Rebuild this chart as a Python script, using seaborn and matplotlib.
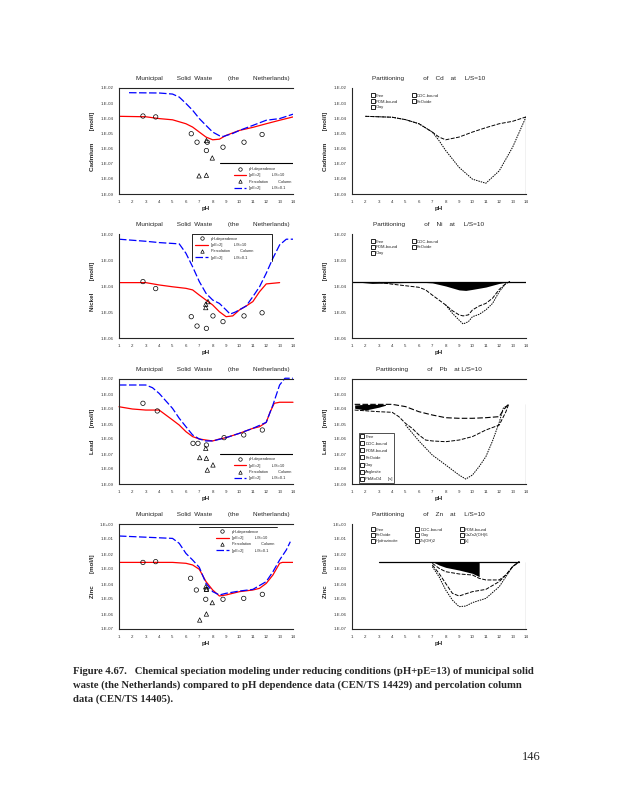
"""Chemical speciation modelling of MSW (the Netherlands): Cd, Ni, Pb, Zn panels."""

import numpy as np
import seaborn as sns
import matplotlib.pyplot as plt
from matplotlib import ticker
from matplotlib.lines import Line2D

OUT_PATH = 'out.png'

# ---- Cd, left panel (log10 mol/l) ----
CD_RED_PH = [1, 3, 4, 5, 6, 6.5, 7, 7.5, 8, 8.5, 9, 10, 11, 12, 13, 14]
CD_RED = [-3.87, -3.9, -4.02, -4.1, -4.36, -4.58, -4.91, -5.24, -5.42, -5.38, -5.13, -4.8, -4.6, -4.36, -4.13, -3.91]
CD_BLUE_PH = [1.75, 4, 5, 5.5, 6, 6.5, 7, 7.5, 8, 8.5, 8.8, 9.5, 10, 11, 12, 13, 14]
CD_BLUE = [-2.31, -2.33, -2.4, -2.6, -3.02, -3.47, -4.02, -4.47, -4.91, -5.15, -5.2, -5.0, -4.8, -4.47, -4.13, -4.02, -3.73]
CD_PHDEP_PH = [2.79, 3.74, 6.4, 6.83, 7.6, 7.53, 8.77, 10.34, 11.69]
CD_PHDEP = [-3.85, -3.91, -5.02, -5.58, -5.58, -6.13, -5.91, -5.58, -5.07]
CD_PERC_PH = [7.53, 7.97, 6.98, 7.53]
CD_PERC = [-5.47, -6.62, -7.8, -7.76]

# ---- Cd, partitioning ----
CD_P_UP_PH = [2, 3, 4, 5, 6, 7, 7.5, 8, 9, 10, 11, 12, 13, 14]
CD_P_UP = [-3.87, -3.9, -3.93, -4.09, -4.36, -4.91, -5.24, -5.42, -5.24, -4.91, -4.62, -4.36, -4.2, -3.91]
CD_P_LOW_PH = [2, 3, 4, 5, 6, 7, 7.5, 8, 9, 10, 11, 12, 13, 14]
CD_P_LOW = [-3.87, -3.9, -3.93, -4.09, -4.36, -4.91, -5.47, -6.13, -7.24, -8.02, -8.29, -7.47, -5.91, -3.91]

# ---- Ni, left panel ----
NI_RED_PH = [1, 3, 4, 5, 6, 6.5, 7, 7.5, 8, 8.5, 9, 9.5, 10, 10.5, 11, 11.5, 12, 13]
NI_RED = [-3.87, -3.87, -3.96, -4.03, -4.09, -4.15, -4.35, -4.54, -4.73, -4.99, -5.18, -5.15, -4.92, -4.77, -4.6, -4.22, -3.92, -3.87]
NI_BLUE_PH = [1, 3, 4, 5.5, 6, 6.5, 7, 7.5, 8, 8.5, 9, 9.3, 9.7, 10.5, 11, 11.5, 12, 12.5, 13, 13.5, 14]
NI_BLUE = [-2.2, -2.28, -2.33, -2.38, -2.74, -3.26, -3.83, -4.28, -4.54, -4.67, -4.92, -5.08, -5.0, -4.77, -4.41, -4.03, -3.51, -2.93, -2.42, -2.2, -2.2]
NI_PHDEP_PH = [2.79, 3.74, 6.4, 6.83, 7.53, 8.77, 10.34, 11.69, 8.02]
NI_PHDEP = [-3.83, -4.1, -5.18, -5.54, -5.63, -5.37, -5.15, -5.03, -5.15]
NI_PERC_PH = [7.48, 7.48, 7.65]
NI_PERC = [-4.7, -4.83, -4.6]

# ---- Ni, partitioning ----
NI_P_TOP_PH = [1, 14]
NI_P_TOP = [-3.83, -3.83]
NI_P_FILL_PH = [1, 2.5, 6, 7, 8, 9, 9.5, 10, 11, 12, 12.8]
NI_P_FILL = [-3.83, -3.9, -3.85, -3.88, -4.0, -4.15, -4.17, -4.13, -4.04, -3.9, -3.83]
NI_P_UP_PH = [3, 4, 5, 6, 6.5, 7, 7.5, 8, 8.5, 9, 9.3, 9.7, 10, 10.5, 11, 11.5, 12, 12.5, 12.8]
NI_P_UP = [-3.86, -3.93, -3.99, -4.05, -4.15, -4.35, -4.54, -4.73, -4.95, -5.11, -5.15, -5.11, -4.92, -4.77, -4.67, -4.47, -4.13, -3.9, -3.83]
NI_P_LOW_PH = [8, 8.5, 9, 9.3, 9.7, 10, 10.5, 11, 11.5, 12, 12.5, 12.8]
NI_P_LOW = [-4.73, -5.05, -5.31, -5.46, -5.37, -5.18, -5.09, -4.92, -4.67, -4.22, -3.9, -3.83]

# ---- Pb, left panel ----
PB_RED_PH = [1, 2, 3, 4, 4.5, 5, 5.5, 6, 6.5, 7, 7.5, 8, 8.5, 9, 10, 11, 11.5, 12, 12.3, 12.6, 13, 14]
PB_RED = [-3.85, -4.0, -4.07, -4.07, -4.4, -4.73, -5.07, -5.51, -5.84, -6.0, -6.07, -6.13, -6.0, -5.91, -5.62, -5.29, -5.18, -4.89, -4.18, -3.62, -3.55, -3.55]
PB_BLUE_PH = [1, 3, 3.5, 4, 5, 5.5, 6, 6.5, 7, 7.5, 8, 9, 10, 11, 12, 12.5, 13, 13.4, 14]
PB_BLUE = [-2.4, -2.4, -2.58, -2.96, -3.96, -4.62, -5.18, -5.73, -6.0, -6.13, -6.13, -5.91, -5.62, -5.29, -4.89, -3.73, -2.4, -1.95, -1.95]
PB_PHDEP_PH = [2.79, 3.86, 6.53, 6.9, 7.53, 8.85, 10.32, 11.71]
PB_PHDEP = [-3.62, -4.13, -6.29, -6.29, -6.4, -5.91, -5.73, -5.4]
PB_PERC_PH = [7.48, 7.03, 7.53, 7.6, 8.02]
PB_PERC = [-6.62, -7.24, -7.29, -8.07, -7.73]

# ---- Pb, partitioning ----
PB_P_FILL_PH = [1.2, 2, 3, 3.5]
PB_P_FILL_HI = [-3.73, -3.69, -3.69, -3.69]
PB_P_FILL_LO = [-3.95, -4.07, -3.88, -3.75]
PB_P_UP_PH = [1.2, 4, 5, 6, 7, 8, 9, 10, 11, 12, 12.3, 12.7]
PB_P_UP = [-3.69, -3.69, -3.84, -4.18, -4.4, -4.58, -4.62, -4.62, -4.58, -4.51, -4.07, -3.69]
PB_P_MID_PH = [1.2, 3, 4, 4.5, 5, 5.5, 6, 6.5, 7, 8, 9, 10, 11, 12, 12.5, 12.7]
PB_P_MID = [-4.07, -4.18, -4.22, -4.51, -4.96, -5.29, -5.73, -6.07, -6.13, -6.18, -6.07, -5.84, -5.4, -5.07, -4.18, -3.69]
PB_P_LOW_PH = [5, 6, 7, 8, 9, 9.5, 10, 10.5, 11, 11.5, 12, 12.3, 12.7]
PB_P_LOW = [-5.07, -6.13, -7.07, -7.73, -8.4, -8.67, -8.4, -7.84, -7.18, -6.13, -4.89, -3.95, -3.69]

# ---- Zn, left panel ----
ZN_RED_PH = [1, 5, 6, 6.5, 7, 7.5, 8, 8.5, 9, 10, 11, 11.5, 12, 12.5, 13, 13.2, 14]
ZN_RED = [-2.56, -2.56, -2.62, -2.73, -3.02, -3.84, -4.4, -4.8, -4.73, -4.51, -4.4, -4.29, -3.96, -3.4, -2.62, -2.56, -2.56]
ZN_BLUE_PH = [1, 5, 5.5, 6, 6.5, 7, 7.5, 8, 8.5, 9, 10, 11, 12, 12.5, 13, 13.5, 13.8]
ZN_BLUE = [-0.8, -0.96, -1.29, -1.96, -2.4, -2.89, -3.96, -4.51, -4.73, -4.62, -4.47, -4.36, -3.84, -3.18, -2.4, -1.73, -1.18]
ZN_PHDEP_PH = [2.79, 3.74, 6.35, 6.78, 7.53, 7.48, 8.77, 10.32, 11.71]
ZN_PHDEP = [-2.56, -2.51, -3.62, -4.4, -4.36, -5.02, -5.02, -4.96, -4.69]
ZN_PERC_PH = [7.48, 7.53, 7.97, 7.53, 7.03]
ZN_PERC = [-4.18, -4.36, -5.24, -6.0, -6.4]

# ---- Zn, partitioning ----
ZN_P_TOP_PH = [3, 13.5]
ZN_P_TOP = [-2.51, -2.51]
ZN_P_FILL_PH = [7, 7.5, 8, 9, 10, 10.5]
ZN_P_FILL = [-2.51, -2.73, -2.89, -3.07, -3.29, -3.51]
ZN_P_A_PH = [7, 7.5, 8, 9, 10, 10.5, 11, 12, 12.5, 13, 13.5]
ZN_P_A = [-2.62, -2.95, -3.18, -3.33, -3.4, -3.62, -3.73, -3.73, -3.4, -2.84, -2.51]
ZN_P_B_PH = [7, 7.5, 8, 8.5, 9, 10, 11, 12, 12.5, 13, 13.5]
ZN_P_B = [-2.73, -3.29, -3.96, -4.62, -4.8, -4.51, -4.36, -3.84, -3.4, -2.84, -2.51]
ZN_P_C_PH = [7, 7.5, 8, 8.5, 9, 9.5, 10, 11, 12, 12.5, 13, 13.5]
ZN_P_C = [-2.84, -3.51, -4.4, -5.07, -5.51, -5.47, -5.24, -4.96, -4.18, -3.51, -2.84, -2.51]

PH_TICKS = list(range(1, 15))

TITLE_LEFT = 'Municipal        Solid  Waste         (the        Netherlands)'
LEGEND_LEFT = ['pH-dependence', '[pE=2]          L/S=10', 'Percolation         Column', '[pE=2]          L/S=0.1']
# column-major order so the legends read row by row like the original
LEGEND_RIGHT = ['Free', 'POM-bound', 'Clay', 'DOC-bound', 'FeOxide']
LEGEND_PB = ['Free', 'DOC-bound', 'POM-bound', 'FeOxide', 'Clay', 'Anglesite', 'PbMoO4      [s]']
LEGEND_ZN = ['Free', 'FeOxide', 'Hydrozincite', 'DOC-bound', 'Clay', 'Zn(OH)2',
             'POM-bound', 'CaZn2(OH)6', '[s]']

# axes boxes in pixels (left, top, right, bottom) on a 618 x 800 page
W, H = 618, 800
LEFT_X = (119, 293)
RIGHT_X = (352, 526)
ROWS_Y = [(88, 194), (234, 338), (379, 484), (524, 629)]

RED = '#ff0000'
BLUE = '#0000ff'


def make_axes(fig, xs, ys):
    return fig.add_axes([xs[0] / W, 1 - ys[1] / H, (xs[1] - xs[0]) / W, (ys[1] - ys[0]) / H])


def style_axis(ax, ymin, ymax, ylabel, top=False):
    ax.set_yscale('log')
    ax.set_ylim(10.0 ** ymin, 10.0 ** ymax)
    ax.set_xlim(1, 14)
    ax.set_xticks(PH_TICKS)
    ax.set_yticks([10.0 ** e for e in range(ymin, ymax + 1)])
    ax.yaxis.set_major_formatter(ticker.FuncFormatter(
        lambda v, _: f"1.E{int(round(np.log10(v))):+03d}"))
    ax.yaxis.set_minor_locator(ticker.LogLocator(base = 10, subs = np.arange(2, 10)))
    ax.yaxis.set_minor_formatter(ticker.NullFormatter())
    ax.tick_params(axis = 'both', which = 'major', labelsize = 3.2, length = 2,
                   width = 0.5, direction = 'in', pad = 4, colors = '#333333')
    ax.tick_params(axis = 'y', which = 'minor', length = 1.5, width = 0.5, direction = 'in')
    for sp in ax.spines.values():
        sp.set_linewidth(0.8)
    ax.spines['right'].set_visible(False)
    ax.spines['top'].set_visible(top)
    ax.set_xlabel('pH', fontsize = 4.5, labelpad = 2, fontweight = 'bold')
    ax.set_ylabel(ylabel, fontsize = 4.5, fontweight = 'bold', labelpad = 2)
    ax.yaxis.set_label_coords(-0.14, 0.5)
    ax.patch.set_alpha(0)


def exp10(vals):
    return [10.0 ** v for v in vals]


def draw_left(ax, red_ph, red, blue_ph, blue, phd_ph, phd, perc_ph, perc):
    sns.lineplot(x = red_ph, y = exp10(red), ax = ax, color = RED, lw = 0.9)
    sns.lineplot(x = blue_ph, y = exp10(blue), ax = ax, color = BLUE, lw = 0.9,
                 linestyle = (0, (6, 2)))
    sns.scatterplot(x = phd_ph, y = exp10(phd), ax = ax, marker = 'o', s = 10,
                    facecolor = 'none', edgecolor = 'black', linewidth = 0.5, zorder = 4)
    sns.scatterplot(x = perc_ph, y = exp10(perc), ax = ax, marker = '^', s = 10,
                    facecolor = 'none', edgecolor = 'black', linewidth = 0.5, zorder = 4)
    ax.text(0.1, 1.07, TITLE_LEFT, transform = ax.transAxes, fontsize = 4.6, va = 'bottom')


def left_legend(ax, loc, anchor):
    handles = [
        Line2D([], [], ls = 'none', marker = 'o', mfc = 'none', mec = 'black', ms = 2.5, mew = 0.5),
        Line2D([], [], color = RED, lw = 0.9),
        Line2D([], [], ls = 'none', marker = '^', mfc = 'none', mec = 'black', ms = 2.5, mew = 0.5),
        Line2D([], [], color = BLUE, lw = 0.9, ls = (0, (6, 2))),
    ]
    return ax.legend(handles, LEGEND_LEFT, loc = loc, bbox_to_anchor = anchor, fontsize = 2.8,
                     frameon = False, handlelength = 3.2, labelspacing = 0.6, borderaxespad = 0)


def right_legend(ax, labels, ncol, loc, anchor, frame = False, spacing = 0.4, colsp = 3.5):
    handles = [Line2D([], [], ls = 'none', marker = 's', mfc = 'white', mec = 'black',
                      ms = 2.2, mew = 0.6) for _ in labels]
    leg = ax.legend(handles, labels, ncol = ncol, loc = loc, bbox_to_anchor = anchor,
                    fontsize = 3.0, frameon = frame, handlelength = 0.8, handletextpad = 0.3,
                    labelspacing = spacing, columnspacing = colsp, borderaxespad = 0, fancybox = False)
    if frame:
        leg.get_frame().set_edgecolor('black')
        leg.get_frame().set_linewidth(0.6)
    return leg


def right_title(ax, text):
    ax.text(0.44, 1.07, text, transform = ax.transAxes, fontsize = 4.6, va = 'bottom', ha = 'center')


def main():
    sns.set_style('white')
    plt.rcParams['font.family'] = ['Liberation Sans', 'DejaVu Sans']
    fig = plt.figure(figsize = (W / 100, H / 100), dpi = 100)

    dash = (0, (4, 1.5))
    dot = (0, (1.5, 1))

    # ---------- row 1: Cd ----------
    ax = make_axes(fig, LEFT_X, ROWS_Y[0])
    draw_left(ax, CD_RED_PH, CD_RED, CD_BLUE_PH, CD_BLUE, CD_PHDEP_PH, CD_PHDEP, CD_PERC_PH, CD_PERC)
    style_axis(ax, -9, -2, 'Cadmium       [mol/l]', top = True)
    left_legend(ax, 'upper right', (1.0, 0.27))
    ax.plot([0.58, 1.0], [0.29, 0.29], transform = ax.transAxes, color = 'black', lw = 0.8)

    ax = make_axes(fig, RIGHT_X, ROWS_Y[0])
    sns.lineplot(x = CD_P_UP_PH, y = exp10(CD_P_UP), ax = ax, color = 'black', lw = 0.7, linestyle = dash)
    sns.lineplot(x = CD_P_LOW_PH, y = exp10(CD_P_LOW), ax = ax, color = 'black', lw = 0.7, linestyle = dot)
    ax.plot([14, 14], [10.0 ** CD_P_UP[-1], 1e-9], color = 'black', lw = 0.8)
    style_axis(ax, -9, -2, 'Cadmium       [mol/l]')
    right_title(ax, 'Partitioning           of    Cd    at     L/S=10')
    right_legend(ax, LEGEND_RIGHT, 2, 'upper left', (0.1, 0.96))

    # ---------- row 2: Ni ----------
    ax = make_axes(fig, LEFT_X, ROWS_Y[1])
    draw_left(ax, NI_RED_PH, NI_RED, NI_BLUE_PH, NI_BLUE, NI_PHDEP_PH, NI_PHDEP, NI_PERC_PH, NI_PERC)
    style_axis(ax, -6, -2, 'Nickel       [mol/l]')
    left_legend(ax, 'upper left', (0.43, 0.99))
    ax.plot([0.42, 0.42, 0.88, 0.88], [0.74, 1.0, 1.0, 0.74], transform = ax.transAxes,
            color = 'black', lw = 0.6)

    ax = make_axes(fig, RIGHT_X, ROWS_Y[1])
    ax.fill_between(NI_P_FILL_PH, exp10(NI_P_FILL), 10.0 ** NI_P_TOP[0], color = 'black', lw = 0)
    sns.lineplot(x = NI_P_TOP_PH, y = exp10(NI_P_TOP), ax = ax, color = 'black', lw = 0.9)
    sns.lineplot(x = NI_P_UP_PH, y = exp10(NI_P_UP), ax = ax, color = 'black', lw = 0.7, linestyle = dash)
    sns.lineplot(x = NI_P_LOW_PH, y = exp10(NI_P_LOW), ax = ax, color = 'black', lw = 0.7, linestyle = dot)
    style_axis(ax, -6, -2, 'Nickel       [mol/l]')
    right_title(ax, 'Partitioning           of    Ni    at     L/S=10')
    right_legend(ax, LEGEND_RIGHT, 2, 'upper left', (0.1, 0.96))

    # ---------- row 3: Pb ----------
    ax = make_axes(fig, LEFT_X, ROWS_Y[2])
    draw_left(ax, PB_RED_PH, PB_RED, PB_BLUE_PH, PB_BLUE, PB_PHDEP_PH, PB_PHDEP, PB_PERC_PH, PB_PERC)
    for ln in ax.get_lines():
        ln.set_clip_on(False)
    style_axis(ax, -9, -2, 'Lead       [mol/l]', top = True)
    left_legend(ax, 'upper right', (1.0, 0.27))
    ax.plot([0.58, 1.0], [0.29, 0.29], transform = ax.transAxes, color = 'black', lw = 0.8)

    ax = make_axes(fig, RIGHT_X, ROWS_Y[2])
    ax.fill_between(PB_P_FILL_PH, exp10(PB_P_FILL_LO), exp10(PB_P_FILL_HI), color = 'black', lw = 0)
    sns.lineplot(x = PB_P_UP_PH, y = exp10(PB_P_UP), ax = ax, color = 'black', lw = 0.8, linestyle = (0, (5, 2)))
    sns.lineplot(x = PB_P_MID_PH, y = exp10(PB_P_MID), ax = ax, color = 'black', lw = 0.7, linestyle = dash)
    sns.lineplot(x = PB_P_LOW_PH, y = exp10(PB_P_LOW), ax = ax, color = 'black', lw = 0.7, linestyle = dot)
    ax.plot([14, 14], [10.0 ** PB_P_UP[-1], 1e-9], color = 'black', lw = 0.8)
    style_axis(ax, -9, -2, 'Lead       [mol/l]', top = True)
    right_title(ax, 'Partitioning           of    Pb    at L/S=10')
    right_legend(ax, LEGEND_PB, 1, 'lower left', (0.04, 0.01), frame = True, spacing = 0.75)

    # ---------- row 4: Zn ----------
    ax = make_axes(fig, LEFT_X, ROWS_Y[3])
    draw_left(ax, ZN_RED_PH, ZN_RED, ZN_BLUE_PH, ZN_BLUE, ZN_PHDEP_PH, ZN_PHDEP, ZN_PERC_PH, ZN_PERC)
    style_axis(ax, -7, 0, 'Zinc       [mol/l]', top = True)
    left_legend(ax, 'upper left', (0.55, 0.96))
    ax.plot([0.46, 0.91], [0.975, 0.975], transform = ax.transAxes, color = 'black', lw = 0.6)

    ax = make_axes(fig, RIGHT_X, ROWS_Y[3])
    ax.fill_between(ZN_P_FILL_PH, exp10(ZN_P_FILL), 10.0 ** ZN_P_TOP[0], color = 'black', lw = 0)
    sns.lineplot(x = ZN_P_TOP_PH, y = exp10(ZN_P_TOP), ax = ax, color = 'black', lw = 0.9)
    sns.lineplot(x = ZN_P_A_PH, y = exp10(ZN_P_A), ax = ax, color = 'black', lw = 0.7, linestyle = dash)
    sns.lineplot(x = ZN_P_B_PH, y = exp10(ZN_P_B), ax = ax, color = 'black', lw = 0.7, linestyle = dash)
    sns.lineplot(x = ZN_P_C_PH, y = exp10(ZN_P_C), ax = ax, color = 'black', lw = 0.7, linestyle = dot)
    ax.plot([14, 14], [10.0 ** ZN_P_TOP[0], 1e-7], color = 'black', lw = 0.8)
    style_axis(ax, -7, 0, 'Zinc       [mol/l]')
    right_title(ax, 'Partitioning           of    Zn    at     L/S=10')
    right_legend(ax, LEGEND_ZN, 3, 'upper left', (0.1, 0.98), colsp = 4.2)

    # ---------- caption and page number ----------
    cap = dict(fontsize = 7.7, fontweight = 'bold', family = 'Liberation Serif', va = 'center')
    fig.text(73 / W, 1 - 671 / H, 'Figure 4.67.   Chemical speciation modeling under reducing conditions (pH+pE=13) of municipal solid', **cap)
    fig.text(73 / W, 1 - 685 / H, 'waste (the Netherlands) compared to pH dependence data (CEN/TS 14429) and percolation column', **cap)
    fig.text(73 / W, 1 - 699 / H, 'data (CEN/TS 14405).', **cap)
    fig.text(541 / W, 1 - 757 / H, '146', fontsize = 9, family = 'Liberation Serif', ha = 'right', va = 'center')

    fig.savefig(OUT_PATH, dpi = 100)
    plt.close(fig)


if __name__ == '__main__':
    main()
